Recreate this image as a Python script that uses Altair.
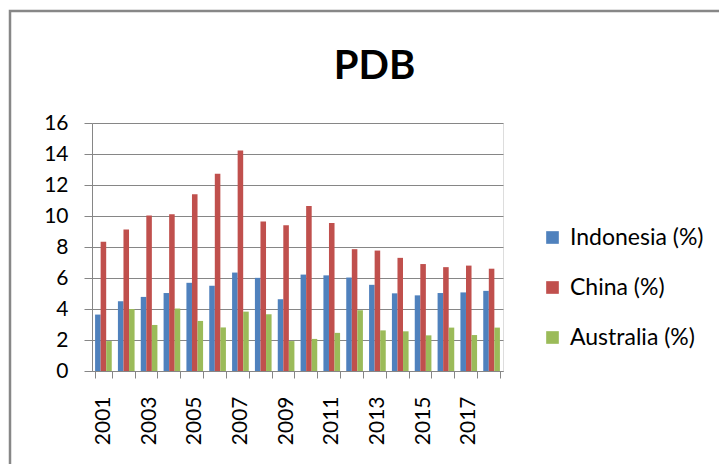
import altair as alt
import pandas as pd

years = [str(y) for y in range(2001, 2019)]
series = ["Indonesia (%)", "China (%)", "Australia (%)"]
indonesia = [3.64, 4.50, 4.78, 5.03, 5.69, 5.50, 6.35, 6.01, 4.63, 6.22, 6.17, 6.03, 5.56, 5.01, 4.88, 5.03, 5.07, 5.17]
china = [8.34, 9.13, 10.04, 10.11, 11.40, 12.72, 14.23, 9.65, 9.40, 10.64, 9.55, 7.86, 7.77, 7.30, 6.90, 6.70, 6.80, 6.60]
australia = [1.93, 4.00, 2.97, 4.03, 3.23, 2.81, 3.83, 3.66, 1.93, 2.07, 2.46, 3.92, 2.62, 2.56, 2.30, 2.80, 2.32, 2.80]
colors = ["#4F81BD", "#C0504D", "#9BBB59"]

rows = []
for name, vals in zip(series, [indonesia, china, australia]):
    for y, v in zip(years, vals):
        rows.append({"year": y, "series": name, "value": v})
df = pd.DataFrame(rows)

FONT = "Lato"
GRID = "#868686"

bars = alt.Chart(df).mark_bar().encode(
    x=alt.X(
        "year:N",
        sort=years,
        scale=alt.Scale(paddingInner=0.27, paddingOuter=0.135),
        axis=alt.Axis(
            title=None,
            labelAngle=-90,
            labelAlign="right",
            labelBaseline="middle",
            labelExpr="parseInt(datum.label) % 2 == 1 ? datum.label : ''",
            tickBand="extent",
            tickSize=7,
            tickColor=GRID,
            domainColor=GRID,
            labelPadding=18,
            labelFontSize=21,
            labelFont=FONT,
            labelColor="#000000",
            grid=False,
        ),
    ),
    xOffset=alt.XOffset("series:N", sort=series, scale=alt.Scale(paddingInner=0, paddingOuter=0)),
    y=alt.Y(
        "value:Q",
        scale=alt.Scale(domain=[0, 16], nice=False),
        axis=alt.Axis(
            title=None,
            values=[0, 2, 4, 6, 8, 10, 12, 14, 16],
            tickSize=8,
            tickColor=GRID,
            domainColor=GRID,
            gridColor=GRID,
            gridOpacity=1,
            labelPadding=16,
            labelFontSize=21,
            labelFont=FONT,
            labelColor="#000000",
        ),
    ),
    color=alt.Color(
        "series:N",
        sort=series,
        scale=alt.Scale(domain=series, range=colors),
        legend=alt.Legend(
            title=None,
            orient="none",
            legendX=449,
            legendY=103,
            symbolType="square",
            symbolSize=160,
            symbolStrokeWidth=0,
            labelFontSize=23,
            labelFont=FONT,
            labelColor="#000000",
            rowPadding=26,
            labelOffset=6,
        ),
    ),
)

border = alt.Chart(alt.Data(values=[{}])).mark_rect(
    fillOpacity=0, stroke="#878787", strokeWidth=2.5
).encode(
    x=alt.value(-82), x2=alt.value(700), y=alt.value(-112), y2=alt.value(420)
)

chart = alt.layer(border, bars).properties(
    width=411,
    height=248,
    title=alt.Title("PDB", fontSize=40, font=FONT, fontWeight="bold", color="#000000",
                    anchor="middle", dx=77, offset=0, dy=77),
    autosize=alt.AutoSizeParams(type="none"),
    padding={"left": 84, "top": 115, "right": 216, "bottom": 93},
).configure_view(strokeWidth=0).configure(background="white")

chart.save("out.html", embed_options={"renderer": "svg", "actions": False})
